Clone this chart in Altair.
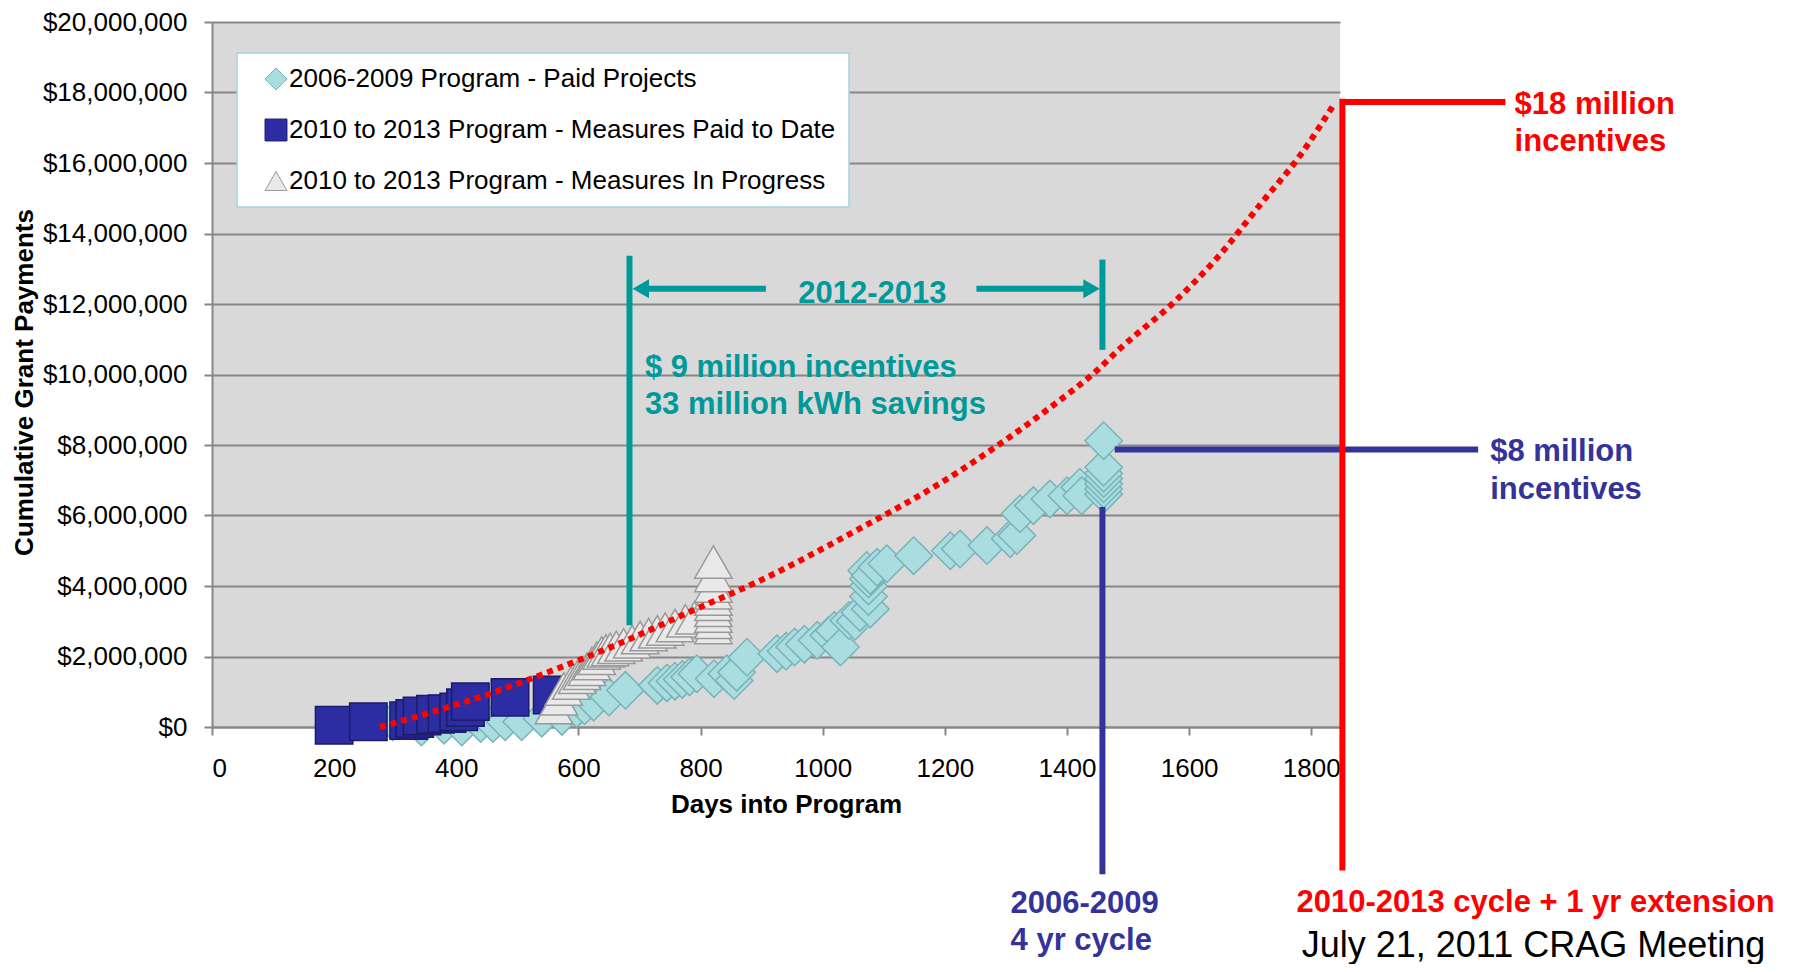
import altair as alt
import pandas as pd

FONT = "Liberation Sans"

# ---------------- data ----------------
SERIES = [
    "2006-2009 Program - Paid Projects",
    "2010 to 2013 Program - Measures Paid to Date",
    "2010 to 2013 Program - Measures In Progress",
]

# 2006-2009 Program - Paid Projects (days, $ millions)
paid0609_days = [296, 343, 380, 409, 440, 460, 480, 507, 540, 573, 597, 610, 625, 650,
                 677, 729, 745, 758, 770, 782, 794, 822, 843, 855, 859, 876, 925, 940,
                 954, 970, 991, 1010, 1019, 1029, 1043, 1053, 1061, 1078, 1075, 1075,
                 1075, 1072, 1078, 1089, 1105, 1149, 1209, 1225, 1269, 1307, 1318, 1323,
                 1345, 1372, 1400, 1421, 1424, 1460, 1460, 1460, 1460, 1460, 1460, 1460]
paid0609_vals = [0.15, 0.0, 0.05, 0.0, 0.1, 0.1, 0.15, 0.15, 0.25, 0.3, 0.52, 0.6, 0.71, 0.85,
                 1.04, 1.18, 1.25, 1.3, 1.35, 1.42, 1.51, 1.37, 1.51, 1.32, 1.55, 1.98, 2.08, 2.15,
                 2.27, 2.35, 2.46, 2.6, 2.74, 2.27, 3.02, 3.0, 3.25, 3.35, 3.7, 4.0,
                 4.2, 4.44, 4.3, 4.53, 4.63, 4.86, 5.0, 5.05, 5.15, 5.34, 5.43, 6.05,
                 6.28, 6.47, 6.56, 6.80, 6.56, 6.6, 6.75, 6.9, 7.05, 7.2, 7.37, 8.12]

# 2010 to 2013 Program - Measures Paid to Date
paid1013_days = [200, 256, 322, 332, 344, 366, 385, 404, 415, 423, 488, 557]
paid1013_vals = [0.05, 0.15, 0.18, 0.24, 0.31, 0.36, 0.38, 0.43, 0.55, 0.72, 0.84, 0.91]

# 2010 to 2013 Program - Measures In Progress
prog1013_days = [560, 568, 576, 588, 598, 606, 614, 622, 630, 638, 645, 652, 662, 674, 688,
                 701, 715, 729, 742, 758, 775, 790,
                 821, 821, 821, 821, 821, 821, 821, 821, 821, 821]
prog1013_vals = [0.55, 0.8, 1.08, 1.25, 1.41, 1.52, 1.64, 1.8, 1.95, 2.1, 2.16, 2.2, 2.26, 2.33, 2.42,
                 2.54, 2.62, 2.70, 2.78, 2.88, 3.01, 3.1,
                 2.82, 2.97, 3.15, 3.31, 3.48, 3.63, 3.81, 4.0, 4.3, 4.68]

# red dotted projection curve
trend_days = [275, 442, 554, 666, 788, 898, 1049, 1225, 1290, 1373, 1448, 1489, 1572,
              1646, 1721, 1779, 1837]
trend_vals = [0.0, 0.87, 1.58, 2.36, 3.31, 4.16, 5.52, 7.27, 8.03, 9.07, 10.1, 10.77, 12.0,
              13.31, 14.92, 16.15, 17.66]

X_TICKS = list(range(0, 1801, 200))
Y_TICKS = [v * 1_000_000 for v in range(0, 21, 2)]
X_DOMAIN = [0, 1847]
Y_DOMAIN = [0, 20_000_000]

TEAL = "#009999"
NAVY = "#333399"
RED = "#ff0000"

# annotation lines (days, $ millions)
rule_x1 = [683.6, 1458, 708.8, 1251.7, 1478.1, 1458, 1850.9, 1850.9]
rule_x2 = [683.6, 1458, 906.9, 1434.0, 2073.2, 1458, 1850.9, 2117.9]
rule_y1 = [13.37, 13.26, 12.43, 12.43, 7.87, 6.24, 17.82, 17.73]
rule_y2 = [2.89, 10.70, 12.43, 12.43, 7.87, -4.18, -4.07, 17.73]
rule_col = [TEAL, TEAL, TEAL, TEAL, NAVY, NAVY, RED, RED]

arrow_days = [702.1, 1440.2]
arrow_vals = [12.43, 12.43]
arrow_shapes = ["triangle-left", "triangle-right"]

# annotation texts
bold_left_text = ["$ 9 million incentives", "33 million kWh savings", "$18 million", "incentives",
                  "$8 million", "incentives", "2006-2009", "4 yr cycle",
                  "2010-2013 cycle + 1 yr extension"]
bold_left_days = [708.8, 708.8, 2132.9, 2132.9, 2093, 2093, 1307.6, 1307.6, 1775.7]
bold_left_vals = [10.18, 9.14, 17.64, 16.59, 7.81, 6.73, -5.03, -6.08, -4.99]
bold_left_col = [TEAL, TEAL, RED, RED, NAVY, NAVY, NAVY, NAVY, RED]

center_text = ["2012-2013"]
center_days = [1081.2]
center_vals = [12.27]

plain_text = ["July 21, 2011 CRAG Meeting"]
plain_days = [1784.3]
plain_vals = [-6.22]

# ---------------- tables ----------------
rows = []
for name, ds, vs in [(SERIES[0], paid0609_days, paid0609_vals),
                     (SERIES[1], paid1013_days, paid1013_vals),
                     (SERIES[2], prog1013_days, prog1013_vals)]:
    for d, v in zip(ds, vs):
        rows.append({"day": d, "amount": v * 1e6, "series": name, "idx": len(rows)})
points_df = pd.DataFrame(rows)

trend_df = pd.DataFrame({"day": trend_days, "amount": [v * 1e6 for v in trend_vals]})

rules_df = pd.DataFrame({
    "day": rule_x1, "day2": rule_x2,
    "amount": [v * 1e6 for v in rule_y1], "amount2": [v * 1e6 for v in rule_y2],
    "color": rule_col,
})
arrows_df = pd.DataFrame({"day": arrow_days, "amount": [v * 1e6 for v in arrow_vals],
                          "shape": arrow_shapes})
bold_df = pd.DataFrame({"day": bold_left_days, "amount": [v * 1e6 for v in bold_left_vals],
                        "label": bold_left_text, "color": bold_left_col})
center_df = pd.DataFrame({"day": center_days, "amount": [v * 1e6 for v in center_vals],
                          "label": center_text})
plain_df = pd.DataFrame({"day": plain_days, "amount": [v * 1e6 for v in plain_vals],
                         "label": plain_text})

# ---------------- encodings ----------------
def X():
    return alt.X("day:Q",
                 scale=alt.Scale(domain=X_DOMAIN, nice=False, zero=False),
                 axis=alt.Axis(values=X_TICKS, format="d", title="Days into Program",
                               titleX=574, titleY=85, titleBaseline="alphabetic",
                               grid=False, labelPadding=20))


def Y():
    return alt.Y("amount:Q",
                 scale=alt.Scale(domain=Y_DOMAIN, nice=False),
                 axis=alt.Axis(values=Y_TICKS, format="$,.0f",
                               title="Cumulative Grant Payments",
                               titleAngle=270, titleX=-188, titleY=360,
                               titleBaseline="middle", titleAlign="center",
                               grid=True, labelPadding=17))


legend = alt.Legend(title=None, orient="none", legendX=25, legendY=31)

points = alt.Chart(points_df).mark_point(
    filled=True, size=1400, strokeWidth=1.5, opacity=1
).encode(
    x=X(), y=Y(),
    fill=alt.Fill("series:N", scale=alt.Scale(domain=SERIES, range=["#a9dde0", "#2d2da3", "#e9e9e9"]),
                  legend=legend),
    stroke=alt.Stroke("series:N", scale=alt.Scale(domain=SERIES, range=["#78b3b8", "#1b1b6b", "#9a9a9a"]),
                      legend=legend),
    shape=alt.Shape("series:N", scale=alt.Scale(domain=SERIES, range=["diamond", "square", "triangle-up"]),
                    legend=legend),
    order=alt.Order("idx:Q"),
)

trend = alt.Chart(trend_df).mark_line(
    color=RED, strokeWidth=6, strokeDash=[6, 5], interpolate="monotone"
).encode(x=X(), y=Y())

rules = alt.Chart(rules_df).mark_rule(strokeWidth=6).encode(
    x=X(), x2="day2:Q", y=Y(), y2="amount2:Q",
    color=alt.Color("color:N", scale=None),
)

arrows = alt.Chart(arrows_df).mark_point(filled=True, size=360, color=TEAL, opacity=1).encode(
    x=X(), y=Y(), shape=alt.Shape("shape:N", scale=None),
)

bold_txt = alt.Chart(bold_df).mark_text(
    align="left", baseline="middle", font=FONT, fontWeight="bold", fontSize=31
).encode(x=X(), y=Y(), text="label:N", color=alt.Color("color:N", scale=None))

center_txt = alt.Chart(center_df).mark_text(
    align="center", baseline="middle", font=FONT, fontWeight="bold", fontSize=31, color=TEAL
).encode(x=X(), y=Y(), text="label:N")

plain_txt = alt.Chart(plain_df).mark_text(
    align="left", baseline="middle", font=FONT, fontSize=36, color="black"
).encode(x=X(), y=Y(), text="label:N")

chart = alt.layer(points, trend, rules, arrows, bold_txt, center_txt, plain_txt).properties(
    width=1128, height=705,
    autosize=alt.AutoSizeParams(type="none"),
    padding={"left": 204, "top": 14, "right": 444, "bottom": 237},
    background="white",
).configure_view(
    fill="#d9d9d9", stroke=None
).configure_axis(
    labelFont=FONT, labelFontSize=26, labelColor="black",
    titleFont=FONT, titleFontSize=26, titleFontWeight="bold", titleColor="black",
    domainColor="#878787", domainWidth=2,
    tickColor="#878787", tickWidth=2, tickSize=8,
    gridColor="#878787", gridWidth=2,
).configure_legend(
    fillColor="white", strokeColor="#a3d5d9", strokeWidth=1.5,
    padding=13, rowPadding=25, symbolSize=480, symbolOffset=13,
    labelFont=FONT, labelFontSize=26, labelColor="black", labelLimit=1000, labelOffset=0,
    symbolStrokeWidth=1,
)

chart.save("out.html", embed_options={"renderer": "svg", "actions": False})
